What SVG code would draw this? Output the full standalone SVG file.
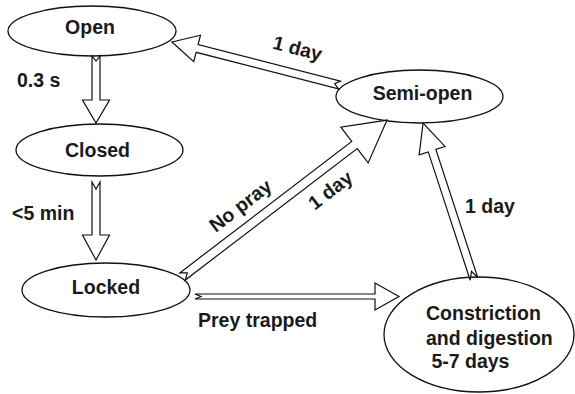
<svg xmlns="http://www.w3.org/2000/svg" width="575" height="394" viewBox="0 0 575 394">
<style>
.node ellipse{fill:#fff;stroke:#111;stroke-width:1.3}
text{font-family:"Liberation Sans",Arial,sans-serif;font-weight:bold;font-size:19.5px;fill:#1a1a1a}
.c{text-anchor:middle}
.arr path{fill:#fff;stroke:#111;stroke-width:1.2;stroke-linejoin:miter}
</style>
<rect width="575" height="394" fill="#fff"/>
<g id="open" class="node"><ellipse cx="92" cy="31" rx="84" ry="25"/><text class="c" x="90" y="34">Open</text></g>
<g id="closed" class="node"><ellipse cx="99.5" cy="150" rx="83.5" ry="26"/><text class="c" x="97.5" y="157">Closed</text></g>
<g id="locked" class="node"><ellipse cx="106" cy="290" rx="84" ry="27"/><text class="c" x="106" y="294">Locked</text></g>
<g id="semiopen" class="node"><ellipse cx="419.5" cy="96.5" rx="83.5" ry="26.5"/><text class="c" x="422.5" y="100">Semi-open</text></g>
<g id="constriction" class="node"><ellipse cx="479" cy="334.5" rx="95" ry="57.5"/><text x="426" y="320">Constriction</text><text x="426" y="345">and digestion</text><text x="426" y="367.5" xml:space="preserve"> 5-7 days</text></g>
<g id="connectors" class="arr">
<path transform="translate(96,56) rotate(90)" d="M0,-4 L44,-4 L44,-13.5 L67,0 L44,13.5 L44,4 L0,4 L5,0 Z"/>
<path transform="translate(96,182) rotate(90)" d="M0,-4 L53,-4 L53,-13.5 L78,0 L53,13.5 L53,4 L0,4 L7,0 Z"/>
<path transform="translate(339.5,85) rotate(194.4)" d="M0,-4 L147,-4 L147,-13.6 L173,0 L147,13.6 L147,4 L0,4 L5,0 Z"/>
<path transform="translate(182.5,276.5) rotate(-37.4)" d="M0,-4.5 L216.5,-4.5 L216.5,-22.5 L257.5,0 L216.5,22.5 L216.5,4.5 L0,4.5 L6,0 Z"/>
<path transform="translate(195,296.5)" d="M0,-2.5 L180,-2.5 L180,-13.5 L204,0 L180,13.5 L180,2.5 L0,2.5 L6,0 Z"/>
<path transform="translate(474,279) rotate(-108.1)" d="M0,-4 L135,-4 L135,-13.6 L164,0 L135,13.6 L135,4 L0,4 L8,0 Z"/>
<text x="17" y="87">0.3 s</text>
<text x="12" y="220">&lt;5 min</text>
<text x="198" y="327">Prey trapped</text>
<text x="465" y="213">1 day</text>
<text class="c" transform="translate(295.8,54.8) rotate(14.4)">1 day</text>
<text class="c" transform="translate(244.5,211) rotate(-37.4)">No pray</text>
<text class="c" transform="translate(334.5,195.5) rotate(-37.4)">1 day</text>
</g>
</svg>
